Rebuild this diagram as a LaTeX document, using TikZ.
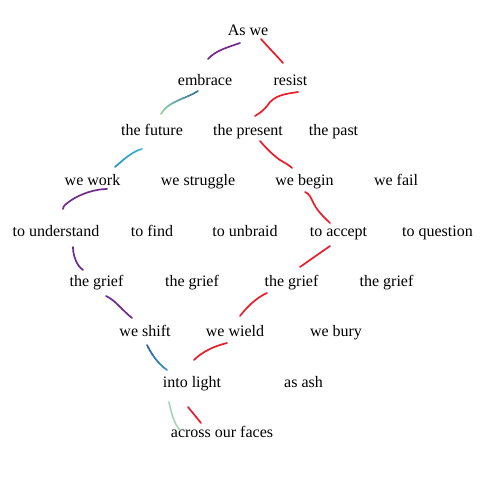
\documentclass[tikz,border=0pt]{standalone}
\usepackage{fontspec}
\setmainfont{Liberation Serif}
\definecolor{inkpurple}{RGB}{112,44,140}
\definecolor{inkred}{RGB}{232,30,45}
\definecolor{inkblueA}{RGB}{50,110,160}
\definecolor{inkgreenA}{RGB}{150,212,160}
\definecolor{inkcyanA}{RGB}{35,145,195}
\definecolor{inkcyanB}{RGB}{70,180,220}
\definecolor{inkshiftA}{RGB}{45,95,150}
\definecolor{inkshiftB}{RGB}{55,145,200}
\definecolor{inkmint}{RGB}{170,215,185}
\newcommand\gradink[6]{%
  \path #1 .. controls #2 and #3 .. #4
    coordinate[pos=0] (gq0) coordinate[pos=0.125] (gq1) coordinate[pos=0.25] (gq2)
    coordinate[pos=0.375] (gq3) coordinate[pos=0.5] (gq4) coordinate[pos=0.625] (gq5)
    coordinate[pos=0.75] (gq6) coordinate[pos=0.875] (gq7) coordinate[pos=1] (gq8);
  \foreach \i [evaluate=\i as \j using int(\i-1), evaluate=\i as \p using 100-(\i-0.5)*12.5] in {1,...,8}{%
    \draw[ink, draw=#5!\p!#6] (gq\j) -- (gq\i);}%
}
\begin{document}
\begin{tikzpicture}[x=1bp,y=-1bp,
  word/.style={anchor=base, inner sep=0pt, font=\fontsize{16bp}{19bp}\selectfont},
  ink/.style={line width=1.7bp, line cap=round, line join=round}]
\useasboundingbox[fill=white] (0,0) rectangle (495,483);
% words
\node[word] (aswe) at (248,36) {As we};
\node[word] (embrace) at (205,86) {embrace};
\node[word] (resist) at (290.5,86) {resist};
\node[word] (future) at (152,136) {the future};
\node[word] (present) at (248,136) {the present};
\node[word] (past) at (333.5,136) {the past};
\node[word] (work) at (92.5,186) {we work};
\node[word] (struggle) at (198,186) {we struggle};
\node[word] (begin) at (304.5,186) {we begin};
\node[word] (fail) at (396,186) {we fail};
\node[word] (understand) at (56,236) {to understand};
\node[word] (find) at (152,236) {to find};
\node[word] (unbraid) at (245,236) {to unbraid};
\node[word] (accept) at (338.5,236) {to accept};
\node[word] (question) at (437.5,236) {to question};
\node[word] (griefA) at (96.5,286.5) {the grief};
\node[word] (griefB) at (192,286.5) {the grief};
\node[word] (griefC) at (291.5,286.5) {the grief};
\node[word] (griefD) at (386.5,286.5) {the grief};
\node[word] (shift) at (145,336) {we shift};
\node[word] (wield) at (235,336) {we wield};
\node[word] (bury) at (336,336) {we bury};
\node[word] (light) at (192,387) {into light};
\node[word] (ash) at (303.5,387) {as ash};
\node[word] (faces) at (222,437) {across our faces};
% stroke end points
\coordinate (s1) at (240,43);  \coordinate (e1) at (208,59);
\coordinate (s2) at (261,39);  \coordinate (e2) at (283,63);
\coordinate (s3) at (198,91);  \coordinate (e3) at (161,114);
\coordinate (s4) at (298,92);  \coordinate (e4) at (255,116);
\coordinate (s5) at (260,141); \coordinate (e5) at (292,168);
\coordinate (s6) at (142,149); \coordinate (e6) at (115,167);
\coordinate (s7) at (107,189); \coordinate (e7) at (63,209);
\coordinate (s8) at (305,192); \coordinate (e8) at (330,223);
\coordinate (s9) at (73,247);  \coordinate (e9) at (83,270);
\coordinate (s10) at (330,246); \coordinate (e10) at (300,267);
\coordinate (s11) at (106,296); \coordinate (e11) at (132,318);
\coordinate (s12) at (267,293); \coordinate (e12) at (240,316);
\coordinate (s13) at (227,343); \coordinate (e13) at (194,360);
\coordinate (s14) at (147,345); \coordinate (e14) at (167,370);
\coordinate (s15) at (169,402); \coordinate (e15) at (180,430);
\coordinate (s16) at (188,407); \coordinate (e16) at (201,423);
% strokes
\draw[ink, inkpurple] (s1) .. controls (229,47) and (216,50) .. (e1);
\draw[ink, inkred] (s2) .. controls (268,47) and (276,55) .. (e2);
\gradink{(s3)}{(186,99)}{(168,101)}{(e3)}{inkblueA}{inkgreenA}
\draw[ink, inkred] (s4) .. controls (285,94) and (274,95) .. (267,106) .. controls (262,112) and (258,114) .. (e4);
\draw[ink, inkred] (s5) .. controls (266,148) and (274,156) .. (280,160) .. controls (285,163) and (289,165) .. (e5);
\gradink{(s6)}{(133,151)}{(123,160)}{(e6)}{inkcyanB}{inkcyanA}
\draw[ink, inkpurple] (s7) .. controls (95,189) and (80,194) .. (70,201) .. controls (66,204) and (63,206) .. (e7);
\draw[ink, inkred] (s8) .. controls (309,193) and (311,198) .. (314,204) .. controls (318,212) and (325,218) .. (e8);
\draw[ink, inkpurple] (s9) .. controls (73,256) and (77,266) .. (e9);
\draw[ink, inkred] (s10) .. controls (320,253) and (310,260) .. (e10);
\draw[ink, inkpurple] (s11) .. controls (115,300) and (122,310) .. (e11);
\draw[ink, inkred] (s12) .. controls (260,296) and (250,303) .. (e12);
\draw[ink, inkred] (s13) .. controls (215,346) and (203,351) .. (e13);
\gradink{(s14)}{(151,353)}{(157,363)}{(e14)}{inkshiftA}{inkshiftB}
\draw[ink, inkmint] (s15) .. controls (171,412) and (174,424) .. (e15);
\draw[ink, inkred] (s16) .. controls (192,412) and (197,418) .. (e16);
\end{tikzpicture}
\end{document}
